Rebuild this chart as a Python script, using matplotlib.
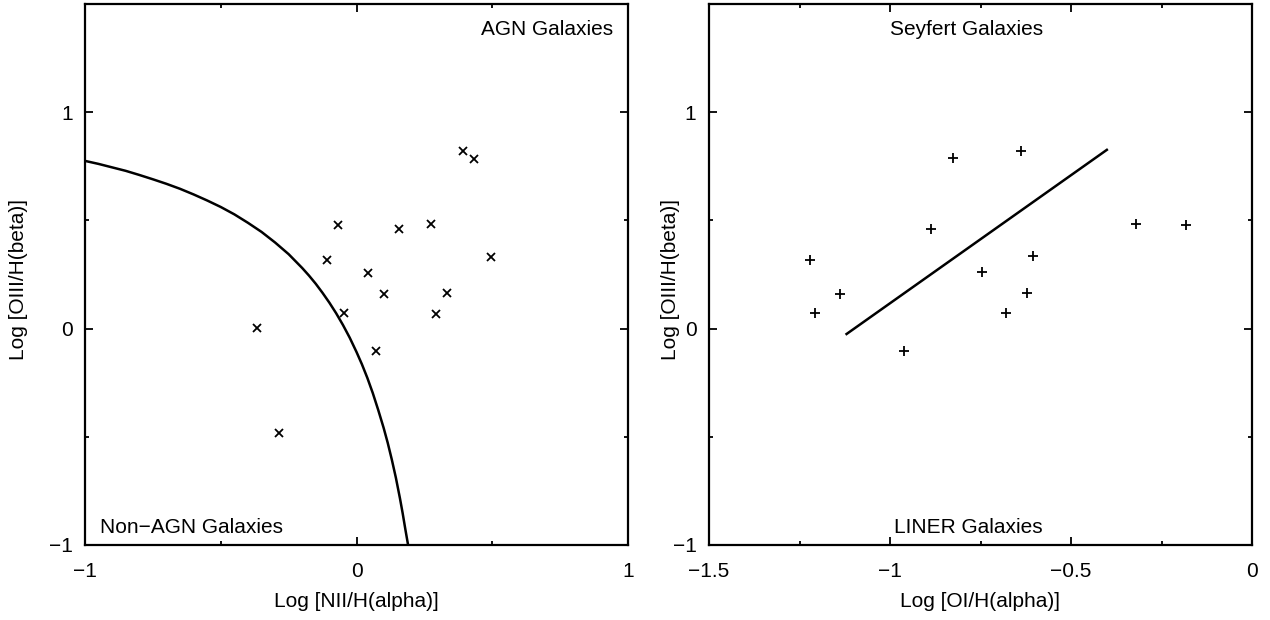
import matplotlib
matplotlib.use("Agg")
import matplotlib.pyplot as plt
from matplotlib.ticker import MultipleLocator, FuncFormatter

plt.rcParams["font.family"] = ["Liberation Sans", "DejaVu Sans"]
plt.rcParams["font.size"] = 15

# --- left panel: NII/Halpha vs OIII/Hbeta ---
nii_x = [0.391, 0.433, -0.067, 0.158, 0.274, 0.494, -0.108, 0.043,
         0.102, 0.332, -0.046, 0.292, -0.368, 0.071, -0.284]
nii_y = [0.820, 0.786, 0.478, 0.459, 0.484, 0.333, 0.315, 0.259,
         0.160, 0.165, 0.071, 0.069, 0.001, -0.105, -0.484]

# demarcation curve
curve_x = [-1.0, -0.95, -0.9, -0.85, -0.8, -0.75, -0.7, -0.65, -0.6, -0.55,
           -0.5, -0.45, -0.4, -0.35, -0.3, -0.25, -0.2, -0.175, -0.15, -0.125,
           -0.1, -0.075, -0.05, -0.025, 0.0, 0.02, 0.04, 0.06, 0.08, 0.1,
           0.115, 0.13, 0.145, 0.16, 0.17, 0.18, 0.19]
curve_y = [0.775, 0.761, 0.745, 0.729, 0.710, 0.690, 0.669, 0.646, 0.620, 0.592,
           0.562, 0.528, 0.489, 0.447, 0.398, 0.344, 0.280, 0.245, 0.207, 0.165,
           0.120, 0.071, 0.017, -0.042, -0.108, -0.165, -0.228, -0.298, -0.376, -0.459,
           -0.528, -0.605, -0.689, -0.784, -0.853, -0.928, -1.0]

# --- right panel: OI/Halpha vs OIII/Hbeta ---
oi_x = [-0.825, -0.638, -0.320, -0.183, -0.887, -1.221, -0.604,
        -0.745, -1.137, -0.622, -1.206, -0.680, -0.960]
oi_y = [0.788, 0.819, 0.484, 0.478, 0.459, 0.315, 0.335,
        0.261, 0.160, 0.165, 0.071, 0.071, -0.105]

sep_x = [-1.120, -0.401]
sep_y = [-0.025, 0.826]

W, H = 1270, 620
fig = plt.figure(figsize=(W / 100, H / 100), dpi=100)
ax1 = fig.add_axes([85 / W, (H - 545) / H, 543 / W, 541 / H])
ax2 = fig.add_axes([709 / W, (H - 545) / H, 543 / W, 541 / H])

fmt = FuncFormatter(lambda v, p: f"{v:g}".replace("-", "\u2212"))


def style(ax, xmin, xmax, xmaj, xmin_step):
    ax.set_xlim(xmin, xmax)
    ax.set_ylim(-1, 1.5)
    ax.xaxis.set_major_locator(MultipleLocator(xmaj))
    ax.xaxis.set_minor_locator(MultipleLocator(xmin_step))
    ax.yaxis.set_major_locator(MultipleLocator(1))
    ax.yaxis.set_minor_locator(MultipleLocator(0.5))
    ax.xaxis.set_major_formatter(fmt)
    ax.yaxis.set_major_formatter(fmt)
    ax.tick_params(which="both", direction="in", top=True, right=True,
                   width=1.3, color="black")
    ax.tick_params(which="major", length=5.5)
    ax.tick_params(which="minor", length=3)
    ax.tick_params(axis="x", pad=12)
    ax.tick_params(axis="y", pad=9)
    for s in ax.spines.values():
        s.set_linewidth(1.6)


style(ax1, -1, 1, 1, 0.5)
ax1.plot(curve_x, curve_y, color="black", lw=1.8)
ax1.plot(nii_x, nii_y, ls="none", marker="x", ms=5.5, mew=1.3, color="black")
ax1.set_xlabel("Log [NII/H(alpha)]", labelpad=8)
ax1.set_ylabel("Log [OIII/H(beta)]")
ax1.yaxis.set_label_coords(-0.105, 0.49)
ax1.text(0.945, 1.38, "AGN Galaxies", ha="right", va="center")
ax1.text(-0.945, -0.917, "Non\u2212AGN Galaxies", ha="left", va="center")

style(ax2, -1.5, 0, 0.5, 0.25)
ax2.plot(sep_x, sep_y, color="black", lw=1.8)
ax2.plot(oi_x, oi_y, ls="none", marker="+", ms=7, mew=1.3, color="black")
ax2.set_xlabel("Log [OI/H(alpha)]", labelpad=8)
ax2.set_ylabel("Log [OIII/H(beta)]")
ax2.yaxis.set_label_coords(-0.053, 0.49)
ax2.text(-1.0, 1.38, "Seyfert Galaxies", ha="left", va="center")
ax2.text(-0.99, -0.917, "LINER Galaxies", ha="left", va="center")

fig.savefig("out.png", dpi=100)
